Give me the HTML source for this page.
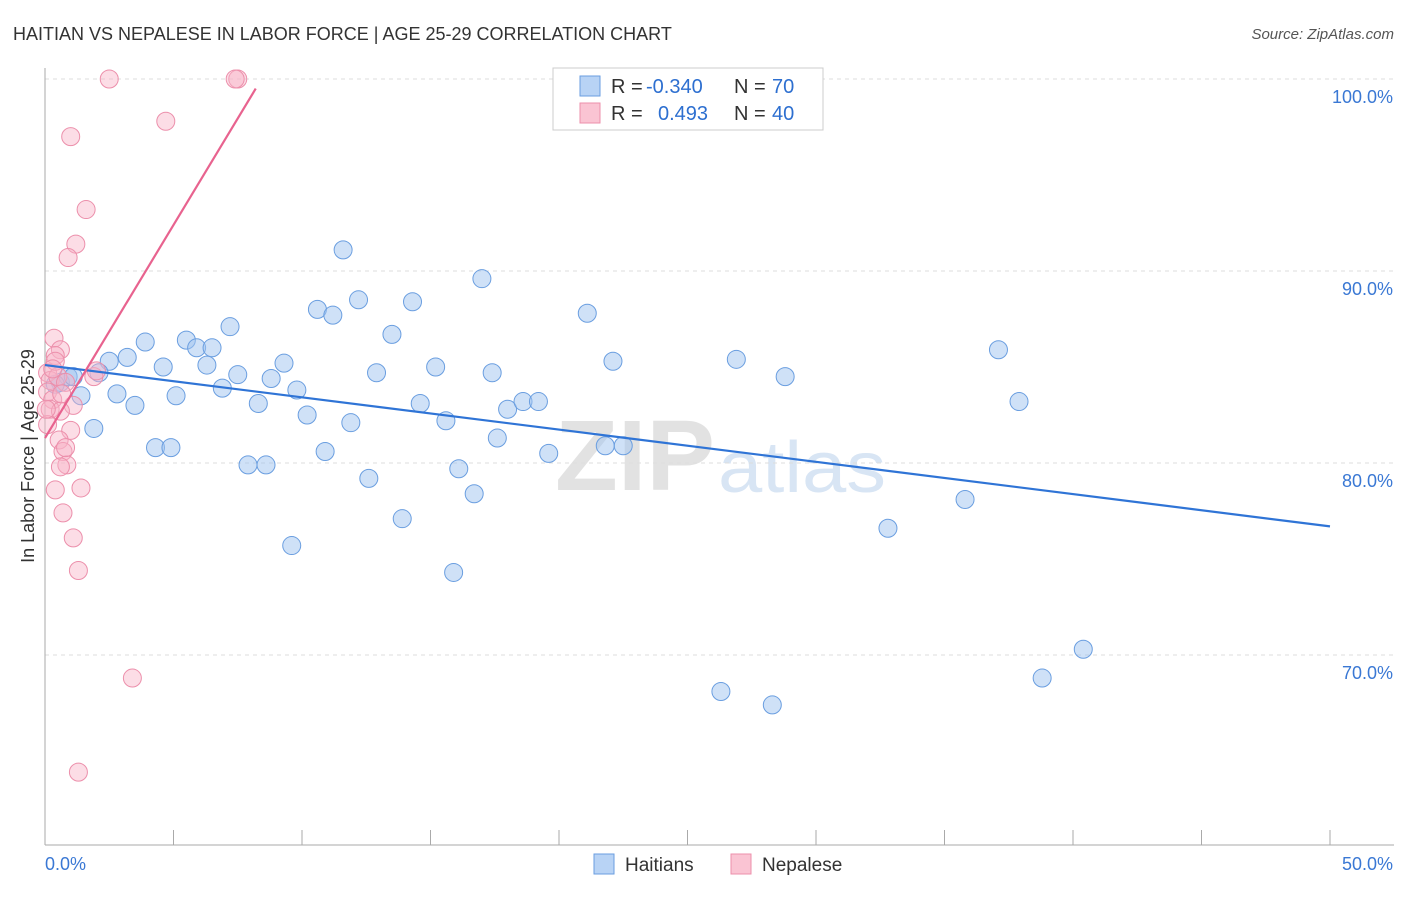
<!DOCTYPE html>
<html><head><meta charset="utf-8"><style>
body{margin:0;background:#fff;font-family:"Liberation Sans",sans-serif}
svg text{font-family:"Liberation Sans",sans-serif}
</style></head><body>
<svg id="c" width="1406" height="892">
<text x="13" y="40" font-size="18" fill="#333">HAITIAN VS NEPALESE IN LABOR FORCE | AGE 25-29 CORRELATION CHART</text>
<text x="1394" y="39" font-size="15" fill="#555" font-style="italic" text-anchor="end">Source: ZipAtlas.com</text>
<g>
<text x="555" y="490" font-size="100" fill="#e2e2e2" font-weight="bold" font-family="Liberation Serif" textLength="160" lengthAdjust="spacingAndGlyphs">ZIP</text>
<text x="718" y="492" font-size="72" fill="#d8e5f4" textLength="168" lengthAdjust="spacingAndGlyphs">atlas</text>
</g>
<g id="grid"></g><g id="pts"></g><g id="lines"></g>
<text x="34" y="456" font-size="18" fill="#333" text-anchor="middle" transform="rotate(-90 34 456)">In Labor Force | Age 25-29</text>
<g>
<rect x="553" y="68" width="270" height="62" fill="#fff" stroke="#ccc"/>
<rect x="580" y="76" width="20" height="20" fill="#b8d3f5" stroke="#6a9ee0"/>
<rect x="580" y="103" width="20" height="20" fill="#fac4d3" stroke="#ec8fab"/>
<text x="611" y="93" font-size="20" fill="#333">R =</text>
<text x="646" y="93" font-size="20" fill="#2d6fd0">-0.340</text>
<text x="734" y="93" font-size="20" fill="#333">N =</text>
<text x="772" y="93" font-size="20" fill="#2d6fd0">70</text>
<text x="611" y="120" font-size="20" fill="#333">R =</text>
<text x="658" y="120" font-size="20" fill="#2d6fd0">0.493</text>
<text x="734" y="120" font-size="20" fill="#333">N =</text>
<text x="772" y="120" font-size="20" fill="#2d6fd0">40</text>
</g>
<g>
<rect x="594" y="854" width="20" height="20" fill="#b8d3f5" stroke="#6a9ee0"/>
<text x="625" y="871" font-size="19" fill="#333">Haitians</text>
<rect x="731" y="854" width="20" height="20" fill="#fac4d3" stroke="#ec8fab"/>
<text x="762" y="871" font-size="19" fill="#333">Nepalese</text>
</g>
</svg>
<script>
const yTicks=[100,90,80,70];
const yTickLabels=["100.0%","90.0%","80.0%","70.0%"];
const xTickLabels=["0.0%","50.0%"];
const haitianX=[29.2,11.6,17.0,10.6,11.2,12.2,14.3,13.5,21.1,3.9,5.5,5.9,6.5,7.2,3.2,2.5,4.6,6.3,7.5,9.3,8.8,9.8,12.9,15.2,17.4,22.1,26.9,28.8,37.1,0.6,0.9,1.1,2.1,2.8,1.4,3.5,5.1,6.9,8.3,10.2,11.9,14.6,15.6,18.0,18.6,19.2,37.9,1.9,4.3,4.9,7.9,8.6,10.9,17.6,19.6,21.8,22.5,12.6,16.1,16.7,13.9,9.6,15.9,32.8,35.8,40.4,38.8,26.3,28.3,0.4];
const haitianY=[100,91.1,89.6,88.0,87.7,88.5,88.4,86.7,87.8,86.3,86.4,86.0,86.0,87.1,85.5,85.3,85.0,85.1,84.6,85.2,84.4,83.8,84.7,85.0,84.7,85.3,85.4,84.5,85.9,84.2,84.5,84.5,84.7,83.6,83.5,83.0,83.5,83.9,83.1,82.5,82.1,83.1,82.2,82.8,83.2,83.2,83.2,81.8,80.8,80.8,79.9,79.9,80.6,81.3,80.5,80.9,80.9,79.2,79.7,78.4,77.1,75.7,74.3,76.6,78.1,70.3,68.8,68.1,67.4,84.1];
const nepaleseX=[2.5,7.5,7.4,4.7,1.0,1.6,1.2,0.9,0.35,0.6,0.4,0.1,0.2,0.5,0.8,1.9,2.0,0.1,0.3,1.1,0.2,0.6,1.0,0.55,0.7,0.85,0.6,0.4,1.4,0.7,1.1,1.3,3.4,1.3,0.1,0.4,0.05,0.65,0.8,0.3];
const nepaleseY=[100,100,100,97.8,97.0,93.2,91.4,90.7,86.5,85.9,85.6,84.7,84.3,84.5,84.2,84.5,84.8,83.7,83.3,83.0,82.8,82.7,81.7,81.2,80.6,79.9,79.8,78.6,78.7,77.4,76.1,74.4,68.8,63.9,82.0,85.3,82.8,83.6,80.8,84.9];
const blueTrendX=[0,50], blueTrendY=[85.1,76.7];
const pinkTrendX=[0,8.2], pinkTrendY=[81.3,99.5];
const X=v=>45+v/50*1285, Y=v=>79+(100-v)*19.2;
const ns="http://www.w3.org/2000/svg";
function mk(t,a,p){const e=document.createElementNS(ns,t);for(const k in a)e.setAttribute(k,a[k]);p.appendChild(e);return e;}
const g=document.getElementById('grid');
yTicks.forEach((t,i)=>{
 const l=mk('line',{x1:45,x2:1394,y1:Y(t),y2:Y(t),stroke:'#ddd','stroke-dasharray':'4,4'},g);
 
 
 const tx=mk('text',{x:1393,y:Y(t)+24,'font-size':18,fill:'#3a78d4','text-anchor':'end'},g);
 tx.textContent=yTickLabels[i];
 
 
});
const ax=mk('line',{x1:45,x2:45,y1:68,y2:845,stroke:'#aaa'},g);


const bx=mk('line',{x1:45,x2:1394,y1:845,y2:845,stroke:'#aaa'},g);


for(let i=0;i<=10;i++){const t=mk('line',{x1:X(i*5),x2:X(i*5),y1:830,y2:845,stroke:'#aaa'},g);
 
 }
xTickLabels.forEach((s,i)=>{const t=mk('text',{x:i?1393:45,y:870,'font-size':18,fill:'#3a78d4','text-anchor':i?'end':'start'},g);t.textContent=s;
 
 });
const p=document.getElementById('pts');
haitianX.forEach((v,i)=>{const c=mk('circle',{cx:X(v),cy:Y(haitianY[i]),r:9,fill:'rgba(160,196,240,0.5)',stroke:'#6a9ee0','stroke-width':1},p);
 
 });
nepaleseX.forEach((v,i)=>{const c=mk('circle',{cx:X(v),cy:Y(nepaleseY[i]),r:9,fill:'rgba(248,180,200,0.45)',stroke:'#ec8fab','stroke-width':1},p);
 
 });
const L=document.getElementById('lines');
const b=mk('line',{x1:X(blueTrendX[0]),y1:Y(blueTrendY[0]),x2:X(blueTrendX[1]),y2:Y(blueTrendY[1]),stroke:'#2f74d6','stroke-width':2.2},L);


const q=mk('line',{x1:X(pinkTrendX[0]),y1:Y(pinkTrendY[0]),x2:X(pinkTrendX[1]),y2:Y(pinkTrendY[1]),stroke:'#e8638f','stroke-width':2.2},L);


</script>
</body></html>
